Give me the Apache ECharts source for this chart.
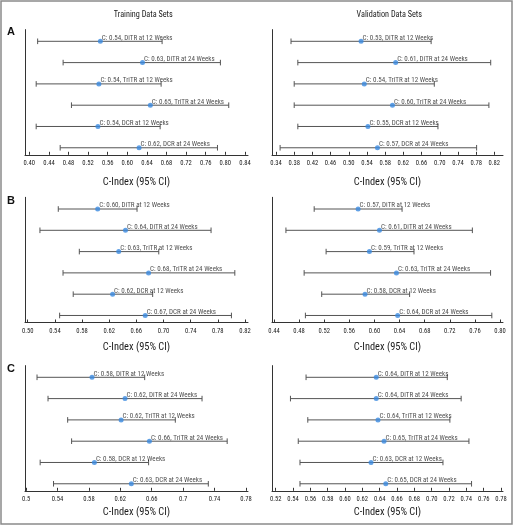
<!DOCTYPE html>
<html>
<head>
<meta charset="utf-8">
<script src="https://cdn.jsdelivr.net/npm/echarts@6/dist/echarts.min.js"></script>
<style>
html,body{margin:0;padding:0;background:#fff;}
#chart{width:514px;height:526px;}
</style>
</head>
<body>
<div id="chart"></div>
<script>
// ---- data ----
const rowNames = ['DiTR at 12 Weeks','DiTR at 24 Weeks','TriTR at 12 Weeks','TriTR at 24 Weeks','DCR at 12 Weeks','DCR at 24 Weeks'];
const columnTitles = ['Training Data Sets','Validation Data Sets'];
const panelLetters = ['A','B','C'];
const axisTitle = 'C-Index (95% CI)';

// A - Training
const aTrainLow   = [0.417, 0.469, 0.414, 0.486, 0.414, 0.463];
const aTrainC     = [0.545, 0.631, 0.542, 0.647, 0.540, 0.624];
const aTrainHigh  = [0.671, 0.790, 0.669, 0.807, 0.667, 0.784];
const aTrainLabel = ['0.54','0.63','0.54','0.65','0.54','0.62'];
const aTrainTicks = [0.40,0.44,0.48,0.52,0.56,0.60,0.64,0.68,0.72,0.76,0.80,0.84];
// A - Validation
const aValLow   = [0.373, 0.388, 0.380, 0.380, 0.388, 0.349];
const aValC     = [0.527, 0.603, 0.534, 0.596, 0.542, 0.563];
const aValHigh  = [0.681, 0.812, 0.688, 0.808, 0.696, 0.781];
const aValLabel = ['0.53','0.61','0.54','0.60','0.55','0.57'];
const aValTicks = [0.34,0.38,0.42,0.46,0.50,0.54,0.58,0.62,0.66,0.70,0.74,0.78,0.82];
// B - Training
const bTrainLow   = [0.545, 0.518, 0.576, 0.552, 0.567, 0.547];
const bTrainC     = [0.603, 0.644, 0.634, 0.678, 0.625, 0.673];
const bTrainHigh  = [0.661, 0.770, 0.693, 0.805, 0.684, 0.800];
const bTrainLabel = ['0.60','0.64','0.63','0.68','0.62','0.67'];
const bTrainTicks = [0.50,0.54,0.58,0.62,0.66,0.70,0.74,0.78,0.82];
// B - Validation
const bValLow   = [0.504, 0.459, 0.523, 0.488, 0.516, 0.490];
const bValC     = [0.574, 0.608, 0.592, 0.635, 0.585, 0.637];
const bValHigh  = [0.644, 0.756, 0.663, 0.785, 0.656, 0.787];
const bValLabel = ['0.57','0.61','0.59','0.63','0.58','0.64'];
const bValTicks = [0.44,0.48,0.52,0.56,0.60,0.64,0.68,0.72,0.76,0.80];
// C - Training
const cTrainLow   = [0.514, 0.528, 0.553, 0.558, 0.518, 0.535];
const cTrainC     = [0.584, 0.626, 0.621, 0.657, 0.587, 0.634];
const cTrainHigh  = [0.651, 0.724, 0.690, 0.756, 0.656, 0.732];
const cTrainLabel = ['0.58','0.62','0.62','0.66','0.58','0.63'];
const cTrainTicks = [0.50,0.54,0.58,0.62,0.66,0.70,0.74,0.78];
// C - Validation
const cValLow   = [0.555, 0.537, 0.557, 0.546, 0.548, 0.548];
const cValC     = [0.636, 0.636, 0.638, 0.645, 0.630, 0.647];
const cValHigh  = [0.718, 0.734, 0.721, 0.743, 0.713, 0.746];
const cValLabel = ['0.64','0.64','0.64','0.65','0.63','0.65'];
const cValTicks = [0.52,0.54,0.56,0.58,0.60,0.62,0.64,0.66,0.68,0.70,0.72,0.74,0.76,0.78];

// ---- layout ----
const FONT = '"Roboto Condensed", "DejaVu Sans Condensed", sans-serif';
const panels = [
  {low:aTrainLow, c:aTrainC, high:aTrainHigh, lab:aTrainLabel, ticks:aTrainTicks, fmt:2, left:25, width:223, top:29.6, xmin:0.3912, xmax:0.8463, nameGap:23},
  {low:aValLow,   c:aValC,   high:aValHigh,   lab:aValLabel,   ticks:aValTicks,   fmt:2, left:272, width:231, top:29.6, xmin:0.3312, xmax:0.8390, nameGap:23},
  {low:bTrainLow, c:bTrainC, high:bTrainHigh, lab:bTrainLabel, ticks:bTrainTicks, fmt:2, left:25, width:223, top:197.3, xmin:0.4960, xmax:0.8244, nameGap:20},
  {low:bValLow,   c:bValC,   high:bValHigh,   lab:bValLabel,   ticks:bValTicks,   fmt:2, left:272, width:231, top:197.3, xmin:0.4368, xmax:0.8048, nameGap:20},
  {low:cTrainLow, c:cTrainC, high:cTrainHigh, lab:cTrainLabel, ticks:cTrainTicks, fmt:0, left:25, width:223, top:365.6, xmin:0.4987, xmax:0.7825, nameGap:17},
  {low:cValLow,   c:cValC,   high:cValHigh,   lab:cValLabel,   ticks:cValTicks,   fmt:2, left:272, width:231, top:365.6, xmin:0.5157, xmax:0.7823, nameGap:17}
];
const GRID_H = 125.2;
const Y_MIN = -0.55, Y_MAX = 5.33;

const grids = [], xAxes = [], yAxes = [], series = [];
panels.forEach((p, i) => {
  grids.push({left:p.left, top:p.top, width:p.width, height:GRID_H});
  xAxes.push({
    type:'value', gridIndex:i, min:p.xmin, max:p.xmax,
    name: axisTitle, nameLocation:'middle', nameGap:p.nameGap,
    nameTextStyle:{fontFamily:FONT, fontSize:10.4, color:'#1a1a1a', verticalAlign:'top'},
    axisLine:{show:true, onZero:false, lineStyle:{color:'#333', width:1}},
    axisTick:{show:true, inside:true, length:3, customValues:p.ticks, lineStyle:{color:'#333'}},
    axisLabel:{customValues:p.ticks, margin:5, fontFamily:FONT, fontSize:6.6, color:'#222',
      formatter: v => p.fmt ? v.toFixed(2) : String(Number(v.toFixed(2)))},
    splitLine:{show:false}
  });
  yAxes.push({
    type:'value', gridIndex:i, min:Y_MIN, max:Y_MAX, inverse:true,
    axisLine:{show:true, onZero:false, lineStyle:{color:'#333', width:1}},
    axisTick:{show:false}, axisLabel:{show:false}, splitLine:{show:false}
  });
  series.push({
    type:'custom', xAxisIndex:i, yAxisIndex:i, clip:false,
    encode:{x:[0,1], y:2},
    data: p.low.map((lo, k) => [lo, p.high[k], k]),
    renderItem: (params, api) => {
      const a = api.coord([api.value(0), api.value(2)]);
      const b = api.coord([api.value(1), api.value(2)]);
      const st = {stroke:'#555', lineWidth:1};
      const h = 2.8;
      return {type:'group', children:[
        {type:'line', shape:{x1:a[0], y1:a[1], x2:b[0], y2:b[1]}, style:st},
        {type:'line', shape:{x1:a[0], y1:a[1]-h, x2:a[0], y2:a[1]+h}, style:st},
        {type:'line', shape:{x1:b[0], y1:b[1]-h, x2:b[0], y2:b[1]+h}, style:st}
      ]};
    }
  });
  series.push({
    type:'scatter', xAxisIndex:i, yAxisIndex:i, z:3,
    symbol:'circle', symbolSize:5,
    itemStyle:{color:'#3a8ae0'},
    data: p.c.map((v, k) => [v, k]),
    label:{show:true, position:[4, 2.6], align:'left', verticalAlign:'bottom',
      fontFamily:FONT, fontSize:7, color:'#1a1a1a',
      formatter: prm => 'C: ' + p.lab[prm.dataIndex] + ', ' + rowNames[prm.dataIndex]}
  });
});

const graphic = [
  {type:'rect', shape:{x:1, y:1, width:511, height:523}, style:{fill:'none', stroke:'#8a8a8a', lineWidth:1.5}, silent:true},
  {type:'text', x:143.3, y:14.7, style:{text:columnTitles[0], fontFamily:FONT, fontSize:8.2, fill:'#1a1a1a', align:'center', verticalAlign:'middle'}},
  {type:'text', x:389.3, y:14.7, style:{text:columnTitles[1], fontFamily:FONT, fontSize:8.2, fill:'#1a1a1a', align:'center', verticalAlign:'middle'}},
  {type:'text', x:11, y:32, style:{text:panelLetters[0], fontFamily:'"Liberation Sans", Arial, sans-serif', fontWeight:'bold', fontSize:11, fill:'#111', align:'center', verticalAlign:'middle'}},
  {type:'text', x:11, y:201, style:{text:panelLetters[1], fontFamily:'"Liberation Sans", Arial, sans-serif', fontWeight:'bold', fontSize:11, fill:'#111', align:'center', verticalAlign:'middle'}},
  {type:'text', x:11, y:369, style:{text:panelLetters[2], fontFamily:'"Liberation Sans", Arial, sans-serif', fontWeight:'bold', fontSize:11, fill:'#111', align:'center', verticalAlign:'middle'}}
];

const chart = echarts.init(document.getElementById('chart'), null, {renderer:'canvas'});
chart.setOption({
  animation:false,
  backgroundColor:'#fff',
  grid:grids, xAxis:xAxes, yAxis:yAxes, series:series, graphic:graphic
});
</script>
</body>
</html>
